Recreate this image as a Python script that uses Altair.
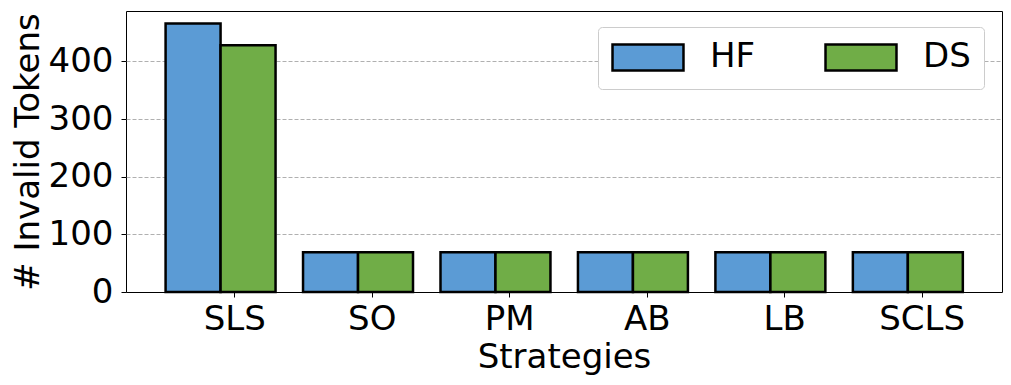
import altair as alt
import pandas as pd

categories = ["SLS", "SO", "PM", "AB", "LB", "SCLS"]
series_names = ["HF", "DS"]
hf_values = [466, 69, 69, 69, 69, 69]
ds_values = [428, 69, 69, 69, 69, 69]
colors = ["#5B9BD5", "#70AD47"]
y_ticks = [0, 100, 200, 300, 400]

rows = []
for i, c in enumerate(categories):
    rows.append({"idx": i, "category": c, "series": "HF", "value": hf_values[i]})
    rows.append({"idx": i, "category": c, "series": "DS", "value": ds_values[i]})
df = pd.DataFrame(rows)

label_expr = "[" + ",".join(f"'{c}'" for c in categories) + "][datum.value]"
FONT = "DejaVu Sans"
FS = 34

chart = alt.Chart(df).mark_bar(stroke="black", strokeWidth=2.5).transform_calculate(
    x0="datum.idx + (datum.series == 'HF' ? -0.5 : -0.1)",
    x1="datum.idx + (datum.series == 'HF' ? -0.1 : 0.3)",
).encode(
    x=alt.X(
        "x0:Q",
        scale=alt.Scale(domain=[-0.788, 5.585], nice=False, zero=False),
        axis=alt.Axis(
            values=list(range(len(categories))),
            labelExpr=label_expr,
            grid=False,
            domain=False,
            tickSize=5,
            tickColor="black",
            labelFontSize=FS,
            labelFont=FONT,
            labelColor="black",
            labelBaseline="alphabetic",
            labelPadding=32,
            labelFlush=False,
            labelOverlap=False,
            title="Strategies",
            titleFontSize=FS,
            titleFont=FONT,
            titleFontWeight="normal",
            titleColor="black",
            titleBaseline="alphabetic",
            titleX=438,
            titleY=75,
            titleAlign="center",
        ),
    ),
    x2="x1:Q",
    y=alt.Y(
        "value:Q",
        scale=alt.Scale(domain=[0, 487.6], nice=False),
        axis=alt.Axis(
            values=y_ticks,
            grid=True,
            gridColor="#b0b0b0",
            gridDash=[4, 2],
            gridWidth=1,
            gridOpacity={"condition": {"test": "datum.value === 0", "value": 0}, "value": 1},
            domain=False,
            tickSize=5,
            tickColor="black",
            labelFontSize=FS,
            labelFont=FONT,
            labelColor="black",
            labelPadding=8,
            labelBaseline="middle",
            labelFlush=False,
            title="# Invalid Tokens",
            titleFontSize=FS,
            titleFont=FONT,
            titleFontWeight="normal",
            titleColor="black",
            titleAngle=270,
            titleBaseline="alphabetic",
            titleAlign="center",
            titleX=-88,
            titleY=140.5,
        ),
    ),
    y2=alt.datum(0),
    color=alt.Color(
        "series:N",
        scale=alt.Scale(domain=series_names, range=colors),
        legend=alt.Legend(
            title=None,
            orient="none",
            legendX=472,
            legendY=16,
            direction="horizontal",
            columns=2,
            symbolType="M-2.5,-0.92H2.5V0.92H-2.5Z",
            symbolSize=806,
            symbolOffset=20,
            symbolStrokeColor="black",
            symbolStrokeWidth=2.5,
            symbolOpacity=1,
            labelFontSize=FS,
            labelFont=FONT,
            labelColor="black",
            labelOffset=45,
            columnPadding=64,
            padding=13,
            strokeColor="#cccccc",
            fillColor="white",
            cornerRadius=4,
        ),
    ),
).properties(
    width=876,
    height=281,
    autosize="none",
    padding={"left": 118, "top": 3, "right": 1, "bottom": 84},
).configure(
    font=FONT
).configure_view(
    stroke="black", strokeWidth=1
)

chart.save("out.html", embed_options={"renderer": "svg", "actions": False})
